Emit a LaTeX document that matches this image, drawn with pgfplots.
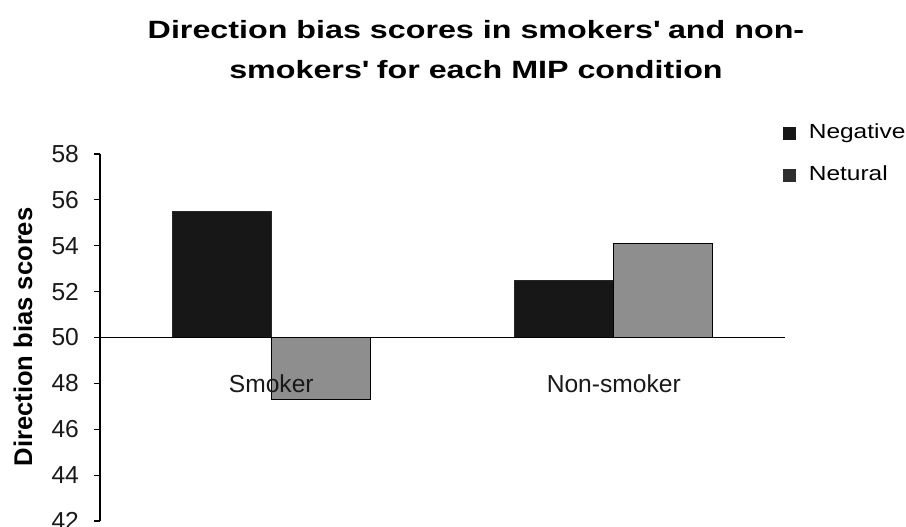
\documentclass[border=0pt]{standalone}
\usepackage{fontspec}
\setmainfont{Liberation Sans}
\newfontfamily\titlefont{Liberation Sans}[FakeStretch=1.29]
\newfontfamily\legfont{Liberation Sans}[FakeStretch=1.2]
\usepackage{pgfplots}
\pgfplotsset{compat=1.18}

\definecolor{negcol}{HTML}{171717}
\definecolor{neucol}{HTML}{8E8E8E}
\definecolor{neuleg}{HTML}{2E2E2E}

\begin{document}
\begin{tikzpicture}
\path[use as bounding box] (0,0) rectangle (453pt,263pt);
\begin{axis}[
  at={(50pt,2.5pt)}, anchor=south west,
  scale only axis, width=342.5pt, height=183.5pt,
  xmin=-0.5, xmax=1.5, ymin=42, ymax=58,
  % bars grow from the 50 line
  y coord trafo/.code={\pgfmathparse{#1-50}},
  y coord inv trafo/.code={\pgfmathparse{#1+50}},
  axis x line*=middle, axis y line*=left,
  axis line style={black, line width=0.6pt},
  axis on top,
  ybar=0pt, bar width=49.5pt,
  ytick={42,44,46,48,50,52,54,56,58},
  yticklabels={42,44,46,48,50,52,54,56,58},
  xtick={0,1}, xticklabels={Smoker,Non-smoker},
  extra x ticks={0.5,1.5}, extra x tick labels={},
  extra x tick style={major tick length=7pt, tick align=outside, tick style={black, line width=0.6pt}},
  x tick style={draw=none},
  y tick style={black, line width=0.6pt},
  major tick length=3pt, tick align=outside,
  tick label style={font=\fontsize{12.3}{14}\selectfont, text=black!90},
  xticklabel style={yshift=-12pt},
  yticklabel style={xshift=-4pt},
  /pgf/number format/assume math mode=true,
  legend style={draw=none, fill=none, at={(0.997,1.092)}, anchor=north west,
    font=\legfont\fontsize{10.2}{12}\selectfont, row sep=8pt, inner sep=0pt,
    nodes={text height=7pt, text depth=2pt},
    legend cell align=left},
  clip=false,
]
\addplot[fill=negcol, draw=black!85, line width=0.4pt,
  legend image code/.code={\fill[negcol] (0pt,-3pt) rectangle (6pt,3pt);
    \path[draw=none, fill=none] (0pt,0pt) -- (10.5pt,0pt);}]
  coordinates {(0,55.5) (1,52.5)};
\addlegendentry{Negative}
\addplot[fill=neucol, draw=black, line width=0.5pt,
  legend image code/.code={\fill[neuleg] (0pt,-3pt) rectangle (6pt,3pt);
    \path[draw=none, fill=none] (0pt,0pt) -- (10.5pt,0pt);}]
  coordinates {(0,47.3) (1,54.1)};
\addlegendentry{Netural}
\end{axis}
\node[align=center, font=\titlefont\fontsize{12.5}{20}\selectfont\bfseries] at (238pt,238pt)
  {Direction bias scores in smokers\textquotesingle{} and non-\\smokers\textquotesingle{} for each MIP condition};
\node[rotate=90, font=\fontsize{12.8}{15}\selectfont\bfseries] at (11.5pt,94.5pt)
  {Direction bias scores};
\end{tikzpicture}
\end{document}
